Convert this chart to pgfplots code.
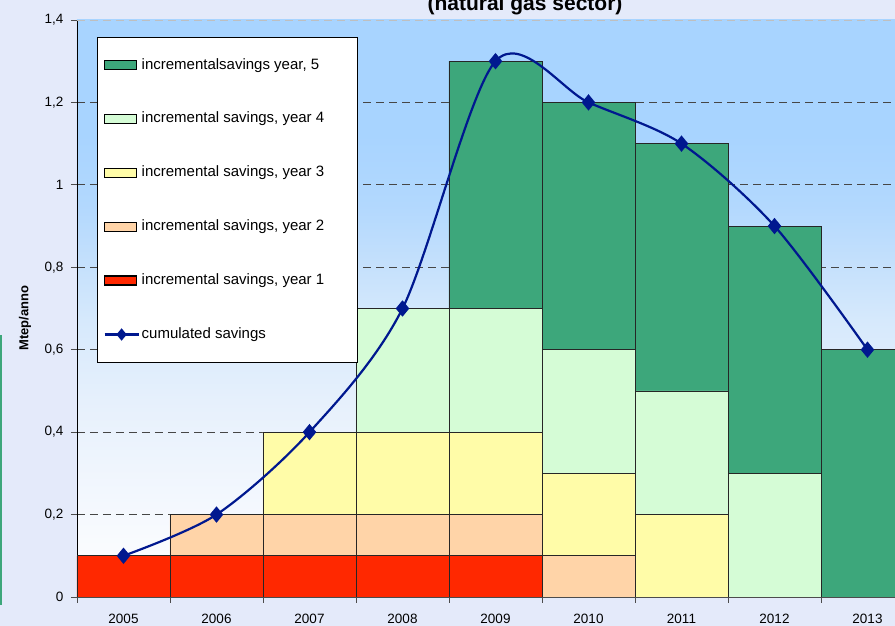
\documentclass[border=0pt]{standalone}
\usepackage{fontspec}
\setmainfont{Liberation Sans}
\usepackage{pgfplots}
\pgfplotsset{compat=1.18}
\usepackage{pgfplotstable}

\definecolor{bglav}{RGB}{228,234,250}
\definecolor{cfive}{RGB}{61,167,123}
\definecolor{cfour}{RGB}{213,252,214}
\definecolor{cthree}{RGB}{255,252,168}
\definecolor{ctwo}{RGB}{255,212,168}
\definecolor{cone}{RGB}{255,40,0}
\definecolor{cline}{RGB}{0,24,143}
\definecolor{gridc}{RGB}{70,70,70}
\definecolor{sha}{RGB}{244,248,254}
\definecolor{shb}{RGB}{230,240,252}
\definecolor{shc}{RGB}{214,233,252}
\definecolor{shd}{RGB}{196,224,252}
\definecolor{she}{RGB}{178,216,254}
\definecolor{shf}{RGB}{168,212,255}
\pgfdeclareverticalshading{plotbg}{100bp}{color(0bp)=(white); color(25bp)=(white); color(33bp)=(sha); color(42bp)=(shb); color(49bp)=(shc); color(54bp)=(shd); color(59bp)=(she); color(65bp)=(shf); color(75bp)=(shf); color(100bp)=(shf)}

\pgfplotsset{
  barleg/.style={legend image code/.code={\draw[##1] (0pt,-4.5pt) rectangle (32pt,4.5pt);}},
  lineleg/.style={legend image code/.code={\draw[##1, mark size=4.5pt, mark repeat=2, mark phase=2] plot coordinates {(0pt,0pt) (17pt,0pt) (34pt,0pt)};}},
  frame/.style={scale only axis, width=818pt, height=577pt, xmin=-0.5, xmax=8.2957, ymin=0, ymax=1.4},
}

\pgfplotstableread{
x y1 y2 y3 y4 y5 cum
0 0.1 0 0 0 0 0.1
1 0.1 0.1 0 0 0 0.2
2 0.1 0.1 0.2 0 0 0.4
3 0.1 0.1 0.2 0.3 0 0.7
4 0.1 0.1 0.2 0.3 0.6 1.3
5 0 0.1 0.2 0.3 0.6 1.2
6 0 0 0.2 0.3 0.6 1.1
7 0 0 0 0.3 0.6 0.9
8 0 0 0 0 0.6 0.6
}\data

\begin{document}
\begin{tikzpicture}
\fill[bglav] (-77pt,-29pt) rectangle (818pt,597pt);
\fill[cfive] (-77pt,-8pt) rectangle (-75pt,262pt);
\begin{axis}[
  frame,
  ybar stacked, bar width=1,
  axis background/.style={shading=plotbg},
  axis x line*=bottom, axis y line*=left, axis line style={-},
  x axis line style={draw=black!70, line width=0.8pt},
  y axis line style={draw=black, line width=0.8pt},
  tick align=outside, major tick length=6pt, minor tick length=6pt,
  xtick={0,...,8},
  xticklabels={2005,2006,2007,2008,2009,2010,2011,2012,2013},
  major x tick style={draw=none},
  minor xtick={-0.5,0.5,1.5,2.5,3.5,4.5,5.5,6.5,7.5},
  minor x tick style={draw=black!70, line width=0.8pt},
  ytick={0,0.2,0.4,0.6,0.8,1,1.2},
  extra y ticks={1.4},
  extra y tick style={grid style={draw=black!25, dash pattern=on 8pt off 5pt, line width=0.8pt}},
  ytick style={draw=black!70, line width=0.8pt},
  ymajorgrids,
  grid style={draw=gridc, dash pattern=on 8pt off 5pt, line width=0.8pt},
  yticklabel style={xshift=-4pt, /pgf/number format/.cd, fixed, use comma, precision=1, assume math mode=true},
  xticklabel style={yshift=-8pt},
  ticklabel style={font=\fontsize{13.5}{16}\selectfont},
]
\addplot[fill=cone, draw=black!85, line width=0.7pt] table[x=x,y=y1]{\data};
\addplot[fill=ctwo, draw=black!85, line width=0.7pt] table[x=x,y=y2]{\data};
\addplot[fill=cthree, draw=black!85, line width=0.7pt] table[x=x,y=y3]{\data};
\addplot[fill=cfour, draw=black!85, line width=0.7pt] table[x=x,y=y4]{\data};
\addplot[fill=cfive, draw=black!85, line width=0.7pt] table[x=x,y=y5]{\data};
\end{axis}
\begin{axis}[
  frame, hide axis,
  legend style={at={(rel axis cs:0.02445,0.9705)}, anchor=north west, draw=black, line width=1pt, fill=white,
    font=\fontsize{15}{18}\selectfont, row sep=35.9pt, inner ysep=18.5pt, inner xsep=6pt,
    nodes={text height=11pt, text depth=3pt, inner sep=2pt}},
  legend cell align=left,
]
\addlegendimage{fill=cfive, draw=black, line width=1.4pt, barleg}
\addlegendimage{fill=cfour, draw=black, line width=1.4pt, barleg}
\addlegendimage{fill=cthree, draw=black, line width=1.4pt, barleg}
\addlegendimage{fill=ctwo, draw=black, line width=1.4pt, barleg}
\addlegendimage{fill=cone, draw=black, line width=1.4pt, barleg}
\addplot[cline, line width=2.2pt, smooth, mark=diamond*, mark size=6.5pt,
   mark options={solid, xscale=1.1}, lineleg]
   table[x=x,y=cum]{\data};
\legend{{incrementalsavings year, 5},{incremental savings, year 4\hspace*{25pt}},{incremental savings, year 3},{incremental savings, year 2},{incremental savings, year 1},{cumulated savings}}
\end{axis}
\node[rotate=90, font=\bfseries\fontsize{13}{15}\selectfont] at (-52pt,279pt) {Mtep/anno};
\node[anchor=base, font=\bfseries\fontsize{21}{24}\selectfont] at (448pt,586pt) {(natural gas sector)};
\pgfresetboundingbox
\useasboundingbox (-77pt,-29pt) rectangle (818pt,597pt);
\end{tikzpicture}
\end{document}
